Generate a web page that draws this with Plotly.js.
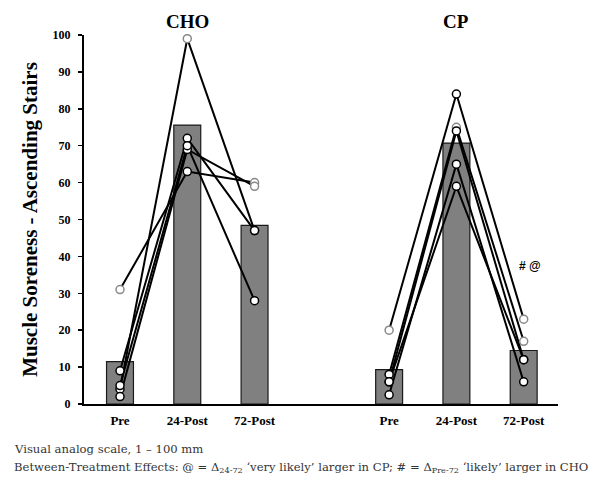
<!DOCTYPE html>
<html>
<head>
<meta charset="utf-8">
<script src="https://cdn.plot.ly/plotly-3.0.1.min.js"></script>
<style>html,body{margin:0;padding:0;background:#fff;}#chart{width:592px;height:478px;}</style>
</head>
<body>
<div id="chart"></div>
<script>
// ---- data ----
const groups = ["CHO", "CP"];
const timepoints = ["Pre", "24-Post", "72-Post"];
const choMeans = [11.5, 75.6, 48.4];
const cpMeans = [9.3, 70.7, 14.5];
// individual subjects (Pre, 24-Post, 72-Post)
const choSubjects = [
  [31, 63, 60],
  [4, 99, 47],
  [9, 72, 47],
  [2, 69, 59],
  [5, 70, 28]
];
const cpSubjects = [
  [20, 84, 23],
  [8, 75, 17],
  [6, 74, 12],
  [2.5, 65, 6],
  [6, 59, 12]
];
const choOpenGrey = [[true, false, true], [false, true, false], [false, false, false], [false, false, true], [false, false, false]];
const cpOpenGrey = [[true, false, true], [false, true, true], [false, false, false], [false, false, false], [false, false, false]];
const sigLabel = "# @";
const sigValue = 37.3;

// ---- build ----
const gap = 4; // slots between group starts
const pos = (g, i) => g * gap + i;
const meansByGroup = [choMeans, cpMeans];
const subjByGroup = [choSubjects, cpSubjects];
const greyByGroup = [choOpenGrey, cpOpenGrey];

const traces = [];
groups.forEach((g, gi) => {
  traces.push({
    type: "bar",
    x: timepoints.map((t, i) => pos(gi, i)),
    y: meansByGroup[gi],
    width: 0.4,
    marker: {color: "#808080", line: {color: "#1a1a1a", width: 1.2}},
    hoverinfo: "skip",
    showlegend: false
  });
});
groups.forEach((g, gi) => {
  subjByGroup[gi].forEach(s => {
    traces.push({
      type: "scatter", mode: "lines",
      x: timepoints.map((t, i) => pos(gi, i)), y: s,
      line: {color: "#000", width: 2},
      showlegend: false, hoverinfo: "skip"
    });
  });
});
groups.forEach((g, gi) => {
  subjByGroup[gi].forEach((s, si) => {
    traces.push({
      type: "scatter", mode: "markers",
      x: timepoints.map((t, i) => pos(gi, i)), y: s,
      marker: {size: 8, color: "#fff",
        line: {color: greyByGroup[gi][si].map(v => v ? "#888" : "#000"), width: 1.5}},
      showlegend: false, hoverinfo: "skip", cliponaxis: false
    });
  });
});

const tickvals = [], ticktext = [];
groups.forEach((g, gi) => timepoints.forEach((t, i) => { tickvals.push(pos(gi, i)); ticktext.push(t); }));

const serif = "Liberation Serif, Times New Roman, serif";
const footSerif = "DejaVu Serif, serif";
const annotations = groups.map((g, gi) => ({
  x: pos(gi, 1), xref: "x", y: 1.0365, yref: "paper", yanchor: "middle",
  text: "<b>" + g + "</b>", showarrow: false,
  font: {family: serif, size: 19, color: "#000"}
}));
annotations.push({
  x: pos(1, 2) + 0.1, xref: "x", y: sigValue, yref: "y",
  text: "<b>" + sigLabel + "</b>", showarrow: false,
  font: {family: "Liberation Sans, Arial, sans-serif", size: 12, color: "#000"}
});
annotations.push({
  x: -0.152, xref: "paper", xanchor: "left", y: -0.123, yref: "paper", yanchor: "middle",
  text: "Visual analog scale, 1 \u2013 100 mm", showarrow: false,
  font: {family: footSerif, size: 11.6, color: "#333"}
});
annotations.push({
  x: -0.152, xref: "paper", xanchor: "left", y: -0.171, yref: "paper", yanchor: "middle",
  text: "Between-Treatment Effects: @ = \u0394<sub>24-72</sub> \u2018very likely\u2019 larger in CP; # = \u0394<sub>Pre-72</sub> \u2018likely\u2019 larger in CHO",
  showarrow: false,
  font: {family: footSerif, size: 11.6, color: "#333"}
});

const layout = {
  width: 592, height: 478,
  margin: {l: 84, r: 34, t: 34.5, b: 73.5},
  paper_bgcolor: "#fff", plot_bgcolor: "#fff",
  showlegend: false,
  barmode: "overlay",
  xaxis: {
    range: [-0.535, 6.51], tickvals: tickvals, ticktext: ticktext,
    showgrid: false, zeroline: false, showline: true, linecolor: "#000", linewidth: 2,
    ticks: "", ticklabelstandoff: 3,
    tickfont: {family: serif, size: 13, color: "#000", weight: "bold"}
  },
  yaxis: {
    range: [0, 100], dtick: 10, showgrid: false, zeroline: false,
    showline: true, linecolor: "#000", linewidth: 2,
    ticks: "outside", ticklen: 4, tickwidth: 1.5, tickcolor: "#000",
    ticklabelstandoff: 5,
    tickfont: {family: serif, size: 12, color: "#000", weight: "bold"},
    title: {text: "<b>Muscle Soreness - Ascending Stairs</b>", standoff: 9,
      font: {family: serif, size: 21, color: "#000"}}
  },
  annotations: annotations
};
Plotly.newPlot("chart", traces, layout, {staticPlot: true, displayModeBar: false});
</script>
</body>
</html>
